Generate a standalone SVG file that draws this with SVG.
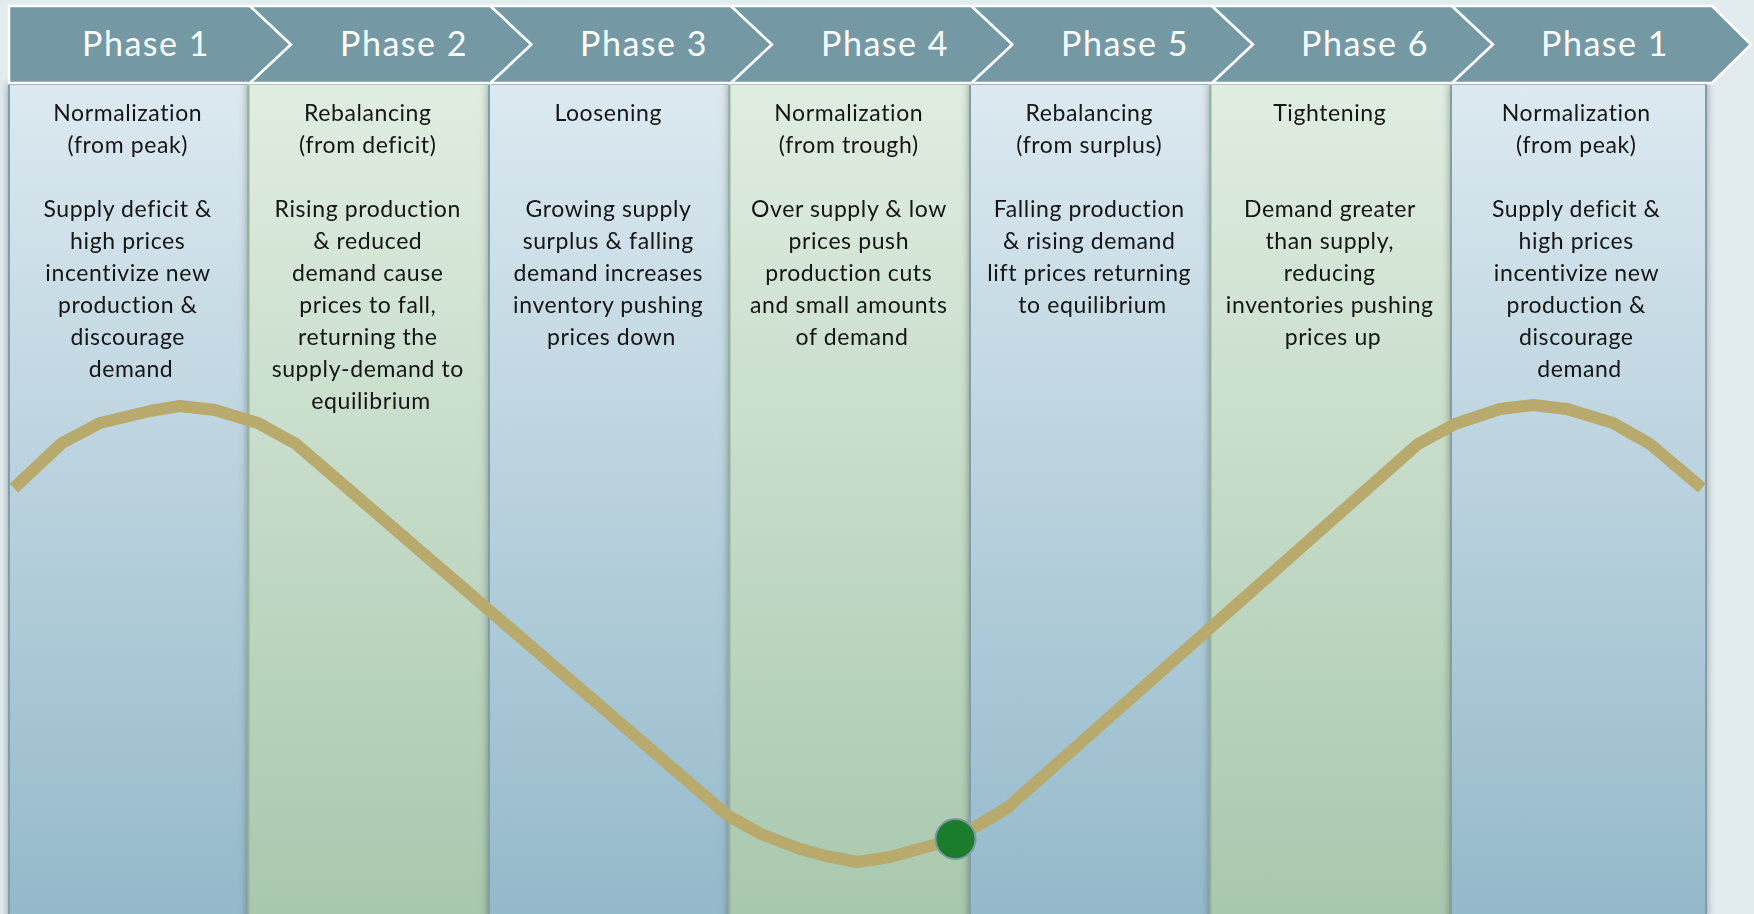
<svg xmlns="http://www.w3.org/2000/svg" width="1754" height="914" viewBox="0 0 1754 914">
  <defs>
    <linearGradient id="gBlue" x1="0" y1="84" x2="0" y2="914" gradientUnits="userSpaceOnUse">
      <stop offset="0" stop-color="#dce9f0"/>
      <stop offset="1" stop-color="#94b9ca"/>
    </linearGradient>
    <linearGradient id="gGreen" x1="0" y1="84" x2="0" y2="914" gradientUnits="userSpaceOnUse">
      <stop offset="0" stop-color="#e0ede1"/>
      <stop offset="1" stop-color="#a8c8ad"/>
    </linearGradient>
    <filter id="colShadow" x="-10%" y="-5%" width="120%" height="110%">
      <feGaussianBlur in="SourceAlpha" stdDeviation="4"/>
      <feComponentTransfer><feFuncA type="linear" slope="0.35"/></feComponentTransfer>
      <feMerge><feMergeNode/><feMergeNode in="SourceGraphic"/></feMerge>
    </filter>
  </defs>
  <style>
    .chev { fill: #7498a4; stroke: #ffffff; stroke-width: 2.5; stroke-linejoin: miter; }
    .phase { font-family: Lato, "Liberation Sans", sans-serif; font-size: 34px; fill: #ffffff; text-anchor: middle; letter-spacing: 1.5px; }
    .blue { fill: url(#gBlue); stroke: #7f9eab; stroke-width: 2; }
    .green { fill: url(#gGreen); stroke: #97b499; stroke-width: 2; }
    .col { filter: url(#colShadow); }
    .txt { font-family: Lato, "Liberation Sans", sans-serif; font-size: 23px; fill: #141414; text-anchor: middle; letter-spacing: 0.6px; }
    .curve { fill: none; stroke: #b8a96d; stroke-width: 12; stroke-linejoin: round; stroke-linecap: butt; }
    .dot { fill: #1b7d2c; stroke: #7b99a3; stroke-width: 2; }
  </style>

  <rect x="0" y="0" width="1754" height="914" fill="#e2ebee"/>

  <!-- column panels, drawn left to right so each casts its shadow on the previous -->
  <g id="col1" class="col">
    <rect class="blue" x="9" y="84" width="239.5" height="840"/>
    <text class="txt">
      <tspan x="131" y="120.5">Normalization</tspan>
      <tspan x="131" y="152.5">(from peak)</tspan>
      <tspan x="131" y="216.5">Supply deficit &amp;</tspan>
      <tspan x="131" y="248.5">high prices</tspan>
      <tspan x="131" y="280.5">incentivize new</tspan>
      <tspan x="131" y="312.5">production &amp;</tspan>
      <tspan x="131" y="344.5">discourage</tspan>
      <tspan x="131" y="376.5">demand</tspan>
    </text>
  </g>
  <g id="col2" class="col">
    <rect class="green" x="248.5" y="84" width="240.5" height="840"/>
    <text class="txt">
      <tspan x="371" y="120.5">Rebalancing</tspan>
      <tspan x="371" y="152.5">(from deficit)</tspan>
      <tspan x="371" y="216.5">Rising production</tspan>
      <tspan x="371" y="248.5">&amp; reduced</tspan>
      <tspan x="371" y="280.5">demand cause</tspan>
      <tspan x="371" y="312.5">prices to fall,</tspan>
      <tspan x="371" y="344.5">returning the</tspan>
      <tspan x="371" y="376.5">supply-demand to</tspan>
      <tspan x="371" y="408.5">equilibrium</tspan>
    </text>
  </g>
  <g id="col3" class="col">
    <rect class="blue" x="489" y="84" width="240.5" height="840"/>
    <text class="txt">
      <tspan x="611.5" y="120.5">Loosening</tspan>
      <tspan x="611.5" y="216.5">Growing supply</tspan>
      <tspan x="611.5" y="248.5">surplus &amp; falling</tspan>
      <tspan x="611.5" y="280.5">demand increases</tspan>
      <tspan x="611.5" y="312.5">inventory pushing</tspan>
      <tspan x="611.5" y="344.5">prices down</tspan>
    </text>
  </g>
  <g id="col4" class="col">
    <rect class="green" x="729.5" y="84" width="240.5" height="840"/>
    <text class="txt">
      <tspan x="852" y="120.5">Normalization</tspan>
      <tspan x="852" y="152.5">(from trough)</tspan>
      <tspan x="852" y="216.5">Over supply &amp; low</tspan>
      <tspan x="852" y="248.5">prices push</tspan>
      <tspan x="852" y="280.5">production cuts</tspan>
      <tspan x="852" y="312.5">and small amounts</tspan>
      <tspan x="852" y="344.5">of demand</tspan>
    </text>
  </g>
  <g id="col5" class="col">
    <rect class="blue" x="970" y="84" width="240.5" height="840"/>
    <text class="txt">
      <tspan x="1092.5" y="120.5">Rebalancing</tspan>
      <tspan x="1092.5" y="152.5">(from surplus)</tspan>
      <tspan x="1092.5" y="216.5">Falling production</tspan>
      <tspan x="1092.5" y="248.5">&amp; rising demand</tspan>
      <tspan x="1092.5" y="280.5">lift prices returning</tspan>
      <tspan x="1092.5" y="312.5">to equilibrium</tspan>
    </text>
  </g>
  <g id="col6" class="col">
    <rect class="green" x="1210.5" y="84" width="240.5" height="840"/>
    <text class="txt">
      <tspan x="1333" y="120.5">Tightening</tspan>
      <tspan x="1333" y="216.5">Demand greater</tspan>
      <tspan x="1333" y="248.5">than supply,</tspan>
      <tspan x="1333" y="280.5">reducing</tspan>
      <tspan x="1333" y="312.5">inventories pushing</tspan>
      <tspan x="1333" y="344.5">prices up</tspan>
    </text>
  </g>
  <g id="col7" class="col">
    <rect class="blue" x="1451" y="84" width="255" height="840"/>
    <text class="txt">
      <tspan x="1579.5" y="120.5">Normalization</tspan>
      <tspan x="1579.5" y="152.5">(from peak)</tspan>
      <tspan x="1579.5" y="216.5">Supply deficit &amp;</tspan>
      <tspan x="1579.5" y="248.5">high prices</tspan>
      <tspan x="1579.5" y="280.5">incentivize new</tspan>
      <tspan x="1579.5" y="312.5">production &amp;</tspan>
      <tspan x="1579.5" y="344.5">discourage</tspan>
      <tspan x="1579.5" y="376.5">demand</tspan>
    </text>
  </g>

  <!-- phase chevrons across the top -->
  <g id="header">
    <g id="phase1">
      <path class="chev" d="M9,6 L250,6 L291,44.5 L250,83 L9,83 Z"/>
      <text class="phase" x="146" y="56">Phase 1</text>
    </g>
    <g id="phase2">
      <path class="chev" d="M250,6 L490.5,6 L531.5,44.5 L490.5,83 L250,83 L291,44.5 Z"/>
      <text class="phase" x="404" y="56">Phase 2</text>
    </g>
    <g id="phase3">
      <path class="chev" d="M490.5,6 L731,6 L772,44.5 L731,83 L490.5,83 L531.5,44.5 Z"/>
      <text class="phase" x="644" y="56">Phase 3</text>
    </g>
    <g id="phase4">
      <path class="chev" d="M731,6 L971.5,6 L1012.5,44.5 L971.5,83 L731,83 L772,44.5 Z"/>
      <text class="phase" x="885" y="56">Phase 4</text>
    </g>
    <g id="phase5">
      <path class="chev" d="M971.5,6 L1212,6 L1253,44.5 L1212,83 L971.5,83 L1012.5,44.5 Z"/>
      <text class="phase" x="1125" y="56">Phase 5</text>
    </g>
    <g id="phase6">
      <path class="chev" d="M1212,6 L1452,6 L1493,44.5 L1452,83 L1212,83 L1253,44.5 Z"/>
      <text class="phase" x="1365" y="56">Phase 6</text>
    </g>
    <g id="phase1-next">
      <path class="chev" d="M1452,6 L1712,6 L1751,44.5 L1712,83 L1452,83 L1493,44.5 Z"/>
      <text class="phase" x="1605" y="56">Phase 1</text>
    </g>
  </g>

  <!-- price cycle line and current-position marker -->
  <g id="connectors">
    <polyline id="price-curve" class="curve" points="14,488 62,443 100,423 150,411 180,406 215,410 258,423 296,444 727,815 761,834 800,849 826,856 857,862 890,857 955,839 1007,808 1418,444 1455,424 1500,409 1533,405 1567,409 1613,423 1650,444 1702,488"/>
  </g>
  <g id="marker">
    <circle class="dot" cx="955.5" cy="839" r="20"/>
  </g>
</svg>
